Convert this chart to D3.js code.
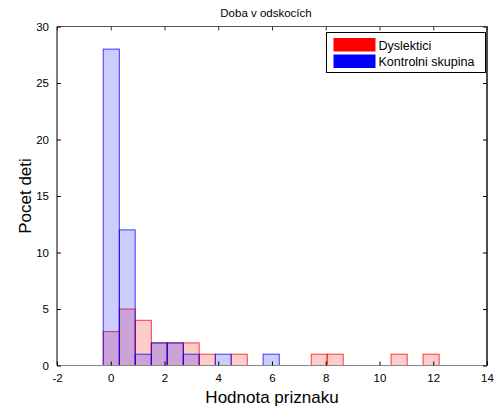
<!DOCTYPE html>
<html>
<head>
<meta charset="utf-8">
<script src="https://cdn.jsdelivr.net/npm/d3@7/dist/d3.min.js"></script>
<style>
  html, body { margin: 0; padding: 0; background: #fff; }
  svg { display: block; }
  text { font-family: "Liberation Sans", Arial, sans-serif; }
</style>
</head>
<body>
<svg id="chart" width="500" height="412"></svg>
<script>
// Histogram bin edges (shared by both groups)
const binEdges = [-0.28, 0.32, 0.91, 1.51, 2.10, 2.70, 3.29, 3.89, 4.48, 5.08, 5.67,
                  6.27, 6.86, 7.46, 8.05, 8.65, 9.24, 9.84, 10.43, 11.03, 11.62, 12.22];
// Counts per bin
const dyslektici = [3, 5, 4, 2, 2, 2, 1, 0, 1, 0, 0, 0, 0, 1, 1, 0, 0, 0, 1, 0, 1];
const kontrolni  = [28, 12, 1, 2, 2, 1, 0, 1, 0, 0, 1, 0, 0, 0, 0, 0, 0, 0, 0, 0, 0];
const seriesNames = ["Dyslektici", "Kontrolni skupina"];
const xTicks = [-2, 0, 2, 4, 6, 8, 10, 12, 14];
const yTicks = [0, 5, 10, 15, 20, 25, 30];
const titleText = "Doba v odskocích";
const xLabel = "Hodnota priznaku";
const yLabel = "Pocet deti";

const svg = d3.select("#chart");
const m = { left: 57, right: 487, top: 26.5, bottom: 365.5 };

const x = d3.scaleLinear().domain([-2, 14]).range([m.left, m.right]);
const y = d3.scaleLinear().domain([0, 30]).range([m.bottom, m.top]);

const series = [
  { name: seriesNames[0], counts: dyslektici, color: "#ff0000" },
  { name: seriesNames[1], counts: kontrolni, color: "#0000ff" }
];

// Bars: red group first, blue drawn over it with transparency
series.forEach(s => {
  const bins = s.counts.map((c, i) => ({ x0: binEdges[i], x1: binEdges[i + 1], c }))
                       .filter(d => d.c > 0);
  svg.append("g").selectAll("rect").data(bins).join("rect")
    .attr("x", d => x(d.x0))
    .attr("width", d => x(d.x1) - x(d.x0))
    .attr("y", d => y(d.c))
    .attr("height", d => y(0) - y(d.c))
    .attr("fill", s.color)
    .attr("fill-opacity", 0.2)
    .attr("stroke", s.color)
    .attr("stroke-opacity", 0.75)
    .attr("stroke-width", 1);
});

// Baseline of the bars
svg.append("line")
  .attr("x1", m.left).attr("x2", m.right)
  .attr("y1", y(0)).attr("y2", y(0))
  .attr("stroke", "#888").attr("stroke-width", 1.2);

// Axes box
const box = svg.append("g").attr("stroke", "#000").attr("stroke-width", 1).attr("fill", "none");
box.append("line").attr("x1", m.left).attr("x2", m.left).attr("y1", m.top).attr("y2", m.bottom);
box.append("line").attr("x1", m.right).attr("x2", m.right).attr("y1", m.top).attr("y2", m.bottom).attr("stroke-width", 1.4);
box.append("line").attr("x1", m.left).attr("x2", m.right).attr("y1", m.top).attr("y2", m.top).attr("stroke", "#555");

// Bottom axis (inward ticks) and matching top ticks
const xAxisBottom = d3.axisBottom(x).tickValues(xTicks).tickSizeInner(-4).tickSizeOuter(0).tickPadding(8)
  .tickFormat(d3.format("d"));
const gxb = svg.append("g").attr("transform", `translate(0,${m.bottom})`).call(xAxisBottom);
gxb.select(".domain").remove();
gxb.selectAll("line").attr("stroke", "#000");
gxb.selectAll("text").attr("font-size", 11.5).attr("fill", "#000").text(d => d < 0 ? "-" + Math.abs(d) : d);

const gxt = svg.append("g").attr("transform", `translate(0,${m.top})`)
  .call(d3.axisTop(x).tickValues(xTicks).tickSizeInner(-4).tickSizeOuter(0).tickFormat(""));
gxt.select(".domain").remove();
gxt.selectAll("line").attr("stroke", "#333");

// Left axis (inward ticks) and matching right ticks
const gyl = svg.append("g").attr("transform", `translate(${m.left},0)`)
  .call(d3.axisLeft(y).tickValues(yTicks).tickSizeInner(-4).tickSizeOuter(0).tickPadding(8));
gyl.select(".domain").remove();
gyl.selectAll("line").attr("stroke", "#000");
gyl.selectAll("text").attr("font-size", 11.5).attr("fill", "#000");

const gyr = svg.append("g").attr("transform", `translate(${m.right},0)`)
  .call(d3.axisRight(y).tickValues(yTicks).tickSizeInner(-4).tickSizeOuter(0).tickFormat(""));
gyr.select(".domain").remove();
gyr.selectAll("line").attr("stroke", "#000");

// Title and axis labels
svg.append("text").attr("x", (m.left + m.right) / 2 - 6).attr("y", 17)
  .attr("text-anchor", "middle").attr("font-size", 11.5).text(titleText);
svg.append("text").attr("x", (m.left + m.right) / 2).attr("y", 403)
  .attr("text-anchor", "middle").attr("font-size", 17).text(xLabel);
svg.append("text").attr("transform", `translate(31,${(m.top + m.bottom) / 2}) rotate(-90)`)
  .attr("text-anchor", "middle").attr("font-size", 17).text(yLabel);

// Legend
const lg = svg.append("g").attr("transform", "translate(326.5,32.5)");
lg.append("rect").attr("width", 159).attr("height", 40)
  .attr("fill", "#fff").attr("stroke", "#000").attr("stroke-width", 1);
series.forEach((s, i) => {
  lg.append("rect").attr("x", 7).attr("y", 5.5 + i * 16.5).attr("width", 42).attr("height", 13.5)
    .attr("fill", s.color);
  lg.append("text").attr("x", 52).attr("y", 17 + i * 16.5)
    .attr("font-size", 12.5).attr("fill", "#000").text(s.name);
});
</script>
</body>
</html>
